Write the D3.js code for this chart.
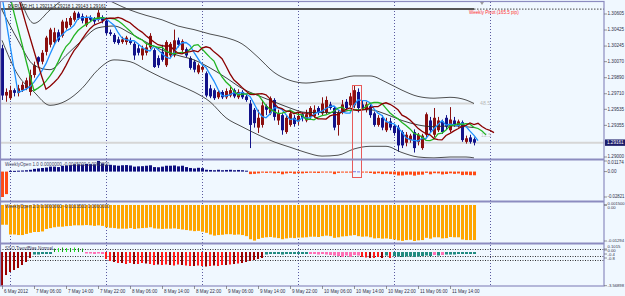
<!DOCTYPE html>
<html><head><meta charset="utf-8">
<script src="https://cdn.jsdelivr.net/npm/d3@7"></script>
<style>
html,body{margin:0;padding:0;background:#f0f8ff;}
svg{display:block;font-family:"Liberation Sans",Arial,sans-serif;}
</style></head><body>
<svg id="c" width="625" height="296"></svg>
<script>
// ---------------- DATA ----------------
const symbolHeader = "EURUSD,H1  1.29213 1.29218 1.29143 1.29161";
const opens = [
1.3022,1.2969,1.2966,1.2975,1.2972,1.2975,1.2977,1.2973,1.2992,1.3012,
1.3007,1.3018,1.3026,1.3029,1.3040,1.3036,1.3045,1.3048,1.3054,1.3061,
1.3058,1.3048,1.3057,1.3055,1.3054,1.3057,1.3053,1.3040,1.3037,1.3032,
1.3029,1.3029,1.3031,1.3027,1.3022,1.3014,1.3017,1.3023,1.3020,1.3011,
1.3018,1.3003,1.3014,1.3014,1.3031,1.3020,1.3021,1.3011,1.3007,1.2995,
1.2998,1.2994,1.2977,1.2975,1.2967,1.2973,1.2967,1.2969,1.2975,1.2967,
1.2973,1.2968,1.2960,1.2953,1.2933,1.2936,1.2957,1.2949,1.2964,1.2941,
1.2947,1.2928,1.2936,1.2944,1.2940,1.2948,1.2941,1.2945,1.2946,1.2955,
1.2949,1.2950,1.2959,1.2955,1.2936,1.2950,1.2962,1.2958,1.2958,1.2973,
1.2959,1.2953,1.2957,1.2949,1.2936,1.2944,1.2930,1.2940,1.2935,1.2933,
1.2928,1.2916,1.2919,1.2928,1.2917,1.2910,1.2925,1.2941,1.2925,1.2930,
1.2940,1.2944,1.2930,1.2941,1.2935,1.2939,1.2917,1.2922,1.2920];
const highs = [
1.3026,1.2977,1.2980,1.2977,1.2981,1.2984,1.2989,1.2998,1.3007,1.3013,
1.3020,1.3036,1.3045,1.3045,1.3043,1.3054,1.3056,1.3058,1.3064,1.3063,
1.3061,1.3059,1.3059,1.3057,1.3065,1.3059,1.3055,1.3043,1.3039,1.3035,
1.3035,1.3036,1.3034,1.3029,1.3026,1.3025,1.3027,1.3039,1.3022,1.3014,
1.3026,1.3031,1.3029,1.3043,1.3034,1.3032,1.3023,1.3013,1.3009,1.3005,
1.3003,1.2996,1.2981,1.2977,1.2975,1.2975,1.2977,1.2980,1.2977,1.2976,
1.2975,1.2971,1.2964,1.2955,1.2953,1.2964,1.2959,1.2968,1.2966,1.2953,
1.2949,1.2947,1.2953,1.2947,1.2950,1.2950,1.2953,1.2957,1.2958,1.2957,
1.2967,1.2968,1.2962,1.2957,1.2953,1.2964,1.2965,1.2972,1.2980,1.2977,
1.2963,1.2962,1.2959,1.2951,1.2947,1.2947,1.2944,1.2944,1.2937,1.2936,
1.2930,1.2928,1.2926,1.2931,1.2927,1.2926,1.2950,1.2945,1.2955,1.2945,
1.2942,1.2947,1.2956,1.2945,1.2942,1.2941,1.2924,1.2925,1.2922];
const lows = [
1.2964,1.2962,1.2964,1.2968,1.2968,1.2973,1.2975,1.2969,1.2989,1.3003,
1.3004,1.3014,1.3023,1.3026,1.3029,1.3034,1.3043,1.3046,1.3052,1.3054,
1.3050,1.3046,1.3052,1.3049,1.3052,1.3050,1.3037,1.3036,1.3027,1.3026,
1.3027,1.3026,1.3026,1.3009,1.3014,1.3009,1.3014,1.3021,1.3000,1.3000,
1.3007,1.3001,1.3012,1.3012,1.3023,1.3018,1.3012,1.2998,1.2995,1.2993,
1.2995,1.2967,1.2966,1.2964,1.2965,1.2965,1.2965,1.2967,1.2966,1.2965,
1.2965,1.2962,1.2910,1.2933,1.2927,1.2933,1.2947,1.2947,1.2941,1.2936,
1.2925,1.2926,1.2934,1.2934,1.2936,1.2940,1.2939,1.2942,1.2944,1.2947,
1.2947,1.2948,1.2953,1.2930,1.2924,1.2948,1.2953,1.2956,1.2955,1.2950,
1.2953,1.2950,1.2944,1.2934,1.2934,1.2930,1.2928,1.2930,1.2924,1.2906,
1.2910,1.2912,1.2916,1.2905,1.2913,1.2908,1.2922,1.2928,1.2922,1.2928,
1.2926,1.2931,1.2928,1.2934,1.2933,1.2917,1.2915,1.2915,1.2913];
const closes = [
1.2969,1.2973,1.2975,1.2972,1.2977,1.2981,1.2986,1.2992,1.3003,1.3007,
1.3017,1.3034,1.3043,1.3040,1.3031,1.3052,1.3052,1.3056,1.3062,1.3056,
1.3053,1.3057,1.3054,1.3052,1.3062,1.3053,1.3039,1.3038,1.3029,1.3028,
1.3032,1.3034,1.3028,1.3014,1.3017,1.3022,1.3023,1.3036,1.3001,1.3003,
1.3009,1.3029,1.3027,1.3031,1.3026,1.3030,1.3014,1.3000,1.2998,1.3003,
1.3001,1.2969,1.2968,1.2966,1.2973,1.2967,1.2974,1.2975,1.2968,1.2973,
1.2967,1.2964,1.2936,1.2938,1.2944,1.2958,1.2953,1.2966,1.2945,1.2949,
1.2930,1.2944,1.2949,1.2937,1.2946,1.2944,1.2948,1.2955,1.2953,1.2950,
1.2960,1.2964,1.2955,1.2933,1.2950,1.2959,1.2955,1.2968,1.2975,1.2955,
1.2955,1.2959,1.2947,1.2936,1.2944,1.2933,1.2939,1.2933,1.2927,1.2913,
1.2913,1.2925,1.2924,1.2910,1.2925,1.2924,1.2948,1.2930,1.2944,1.2941,
1.2928,1.2934,1.2942,1.2936,1.2940,1.2919,1.2921,1.2917,1.29161];
// closes of the last bars before the chart (needed by the moving averages)
const priorCloses = [1.3092,1.3088,1.3085,1.3090,1.3086,1.3082,1.3084,1.3080,1.3078,1.3083,1.3081,1.3080];

// Bollinger bands every 4 bars
const bbBars   = [0,4,8,12,16,20,24,28,32,36,40,44,48,52,56,60,64,68,72,76,80,84,88,92,96,100,104,108,112,116,118];
const bbUpper  = [1.3121,1.3082,1.3050,1.3065,1.3079,1.3087,1.3082,1.3073,1.3065,1.3059,1.3054,1.3047,1.3043,1.3038,1.3034,1.3027,1.3012,1.2995,1.2986,1.2983,1.2985,1.2987,1.2991,1.2991,1.2984,1.2975,1.2968,1.2966,1.2967,1.2964,1.2960];
const bbMiddle = [1.3065,1.3031,1.3003,1.2998,1.3014,1.3031,1.3045,1.3047,1.3039,1.3029,1.3020,1.3014,1.3009,1.3000,1.2989,1.2977,1.2969,1.2962,1.2955,1.2950,1.2950,1.2950,1.2953,1.2953,1.2948,1.2941,1.2936,1.2934,1.2935,1.2934,1.2933];
const bbLower  = [1.3031,1.2992,1.2973,1.2958,1.2963,1.2977,1.2998,1.3009,1.3007,1.2998,1.2989,1.2981,1.2973,1.2962,1.2944,1.2934,1.2925,1.2917,1.2911,1.2905,1.2901,1.2902,1.2909,1.2912,1.2912,1.2905,1.2900,1.2899,1.2900,1.2900,1.2899];

const maPeriods = [4, 6, 7];
const maShifts  = [1, 3, 5];
const maColors  = ["#1e90ff", "#22b422", "#8b0000"];

const weeklyPivot = 1.3066;
const pivotLabel = "Weekly Pivot (165.5 pip)";
const levelPrices = [1.2960];
const levelLabels = ["48.5"];
const bidPrice = 1.29161;
const bidLabel = "12.5";

const weeklyOpen1 = [
-0.02821,-0.0250,0.0008,0.0008,0.0010,0.0012,0.0015,0.0020,0.0030,0.0035,
0.0040,0.0045,0.0055,0.0055,0.0050,0.0065,0.0068,0.0072,0.0080,0.0080,
0.0078,0.0085,0.0082,0.0080,0.01174,0.0090,0.0075,0.0075,0.0070,0.0065,
0.0070,0.0072,0.0068,0.0055,0.0058,0.0060,0.0065,0.0070,0.0050,0.0048,
0.0055,0.0065,0.0065,0.0068,0.0058,0.0065,0.0050,0.0040,0.0035,0.0042,
0.0038,0.0020,0.0018,0.0015,0.0020,0.0015,0.0018,0.0020,0.0015,0.0018,
0.0015,0.0010,-0.0028,-0.0025,-0.0020,-0.0012,-0.0015,-0.0008,-0.0020,-0.0016,
-0.0030,-0.0020,-0.0015,-0.0024,-0.0018,-0.0020,-0.0016,-0.0012,-0.0014,-0.0016,
-0.0008,-0.0006,-0.0010,-0.0028,-0.0014,-0.0008,-0.0012,-0.0004,0.0004,0.0002,
-0.0010,-0.0006,-0.0016,-0.0025,-0.0018,-0.0028,-0.0022,-0.0028,-0.0032,-0.0043,
-0.0043,-0.0035,-0.0034,-0.0045,-0.0035,-0.0034,-0.0014,-0.0030,-0.0018,-0.0020,
-0.0032,-0.0027,-0.0019,-0.0025,-0.0021,-0.0039,-0.0036,-0.0040,-0.0041];
const weeklyOpen2 = [
-0.0071,-0.0071,-0.0106,-0.0106,-0.0108,-0.0108,-0.0104,-0.0100,-0.0097,-0.0097,
-0.0095,-0.0086,-0.0083,-0.0080,-0.0078,-0.0078,-0.0076,-0.0075,-0.0073,-0.0073,
-0.0073,-0.0072,-0.0073,-0.0075,-0.0073,-0.0075,-0.0080,-0.0082,-0.0083,-0.0085,
-0.0085,-0.0085,-0.0083,-0.0086,-0.0084,-0.0083,-0.0082,-0.0080,-0.0084,-0.0085,
-0.0086,-0.0085,-0.0085,-0.0084,-0.0086,-0.0088,-0.0090,-0.0092,-0.0094,-0.0093,
-0.0096,-0.0100,-0.0106,-0.0110,-0.0108,-0.0107,-0.0105,-0.0105,-0.0107,-0.0106,
-0.0108,-0.0112,-0.0123,-0.0128,-0.0122,-0.0118,-0.0116,-0.0115,-0.0117,-0.0119,
-0.0123,-0.0120,-0.0118,-0.0119,-0.0117,-0.0117,-0.0116,-0.0114,-0.0114,-0.0115,
-0.0112,-0.0110,-0.0112,-0.0118,-0.0116,-0.0113,-0.0112,-0.0110,-0.0108,-0.0112,
-0.0114,-0.0113,-0.0116,-0.0120,-0.0119,-0.0121,-0.0120,-0.0122,-0.0124,-0.0127,
-0.0129,-0.0126,-0.0125,-0.01294,-0.0127,-0.0126,-0.0118,-0.0121,-0.0116,-0.0116,
-0.0120,-0.0119,-0.0115,-0.0116,-0.0116,-0.0124,-0.0126,-0.0126,-0.0126];
const trendBias = [
-3.56898,-2.5,-2.2,-2.0,-1.8,-1.5,-1.2,-0.8,-0.45,-0.45,
-0.4,-0.4,-0.4,0.15,0.2,0.25,0.2,0.2,0.25,0.2,
0.15,-0.35,-0.35,-0.4,-0.35,-0.4,-0.9,-1.1,-1.2,-1.3,
-1.3,-1.4,-1.3,-1.4,-1.4,-1.3,-1.35,-1.4,-1.5,-1.45,
-1.5,-1.45,-1.5,-1.55,-1.45,-1.5,-1.55,-1.6,-1.6,-1.55,
-1.6,-1.65,-1.6,-1.55,-1.6,-1.5,-1.5,-1.45,-1.4,-1.35,
-1.3,-1.2,-1.1,-1.0,-0.9,-0.8,-0.45,-0.4,-0.4,-0.4,
-0.45,-0.4,-0.4,-0.4,-0.4,-0.4,-0.4,-0.4,-0.4,-0.45,
-0.4,-0.45,-0.5,-0.55,-0.6,-0.7,-0.55,-0.7,-0.5,-0.55,
-0.7,-0.75,-0.8,-0.8,-0.7,-0.8,-0.55,-0.8,-0.6,-0.65,
-0.7,-0.65,-0.65,-0.7,-0.65,-0.6,-0.55,-0.6,-0.5,-0.55,
-0.5,-0.45,-0.45,-0.45,-0.4,-0.4,-0.4,-0.4,-0.4];
const trendState = [
"dr","dr","dr","dr","dr","dr","dr","dr","tl","tl",
"tl","tl","tl","g","lg","g","lg","g","lg","g",
"g","pk","pk","pk","pk","pk","r","r","dr","r",
"dr","r","r","dr","r","r","dr","r","r","dr",
"r","r","dr","r","r","dr","r","r","dr","r",
"r","dr","r","dr","r","r","dr","r","dr","r",
"dr","dr","dr","dr","dr","dr","tl","tl","tl","tl",
"tl","tl","tl","tl","tl","tl","tl","pk","pk","pk",
"pk","pk","pk","pk","pk","pk","pk","pk","pk","pk",
"r","r","dr","r","r","dr","tl","r","tl","tl",
"tl","tl","tl","tl","tl","tl","tl","tl","pk","tl",
"pk","tl","tl","tl","tl","tl","tl","tl","tl"];
const trendBase = -0.2;
const trendLevels = [0.1, -0.6, -1.0];

const highlight = {bar0: 88, bar1: 89, bottomValue: -0.0057};

const priceTicks = [1.30605,1.30425,1.30245,1.30070,1.29890,1.29710,1.29535,1.29355,1.29000];
const p2Ticks = [0.01174, 0.0, -0.02821];
const p2TickLabels = ["0.01174","0.00","-0.02821"];
const p3Ticks = [0.0, 0.0, -0.01294];
const p3TickLabels = ["0.001500","0.00","-0.01294"];
const p4Ticks = [0.1015, 0.0, -0.4, -0.8, -3.56898];
const p4TickLabels = ["0.1015","0.00","-0.4","-0.8","-3.56898"];

const timeTicks = ["2012-05-06T22:00Z","2012-05-07T06:00Z","2012-05-07T14:00Z","2012-05-07T22:00Z",
  "2012-05-08T06:00Z","2012-05-08T14:00Z","2012-05-08T22:00Z","2012-05-09T06:00Z","2012-05-09T14:00Z",
  "2012-05-09T22:00Z","2012-05-10T06:00Z","2012-05-10T14:00Z","2012-05-10T22:00Z","2012-05-11T06:00Z","2012-05-11T14:00Z"];
const timeLabels = ["6 May 2012","7 May 06:00","7 May 14:00","7 May 22:00","8 May 06:00","8 May 14:00",
  "8 May 22:00","9 May 06:00","9 May 14:00","9 May 22:00","10 May 06:00","10 May 14:00","10 May 22:00",
  "11 May 06:00","11 May 14:00"];
const daySeparators = ["2012-05-07T00:00Z","2012-05-08T00:00Z","2012-05-09T00:00Z","2012-05-10T00:00Z","2012-05-11T00:00Z","2012-05-12T00:00Z"];

const panelTitles = ["WeeklyOpen 1.0 0.0000000 -0.0045000 0.0000000",
                     "WeeklyOpen 2.0 0.0000000 -0.0103500 0.0000000",
                     "SSO TrendBias Normal"];

// ---------------- CHART ----------------
const svg = d3.select("#c");
const HOUR = 3600e3;
const start = Date.UTC(2012,4,6,22);
const barTime = i => new Date(start + i*HOUR);
const RIGHT = 604;
const x = d3.scaleUtc().domain([new Date(start-0.5*HOUR), new Date(start+150.5*HOUR)]).range([0, RIGHT]);

const pane = {main:[2,159], p2:[160,201], p3:[202,243], p4:[244,286]};
const yMain = d3.scaleLinear().domain([1.29000,1.30605]).range([157,14]);
const yP2 = d3.scaleLinear().domain([-0.02821,0.01174]).range([197,161]);
const yP3 = d3.scaleLinear().domain([-0.01294,0]).range([241,205]);
const yP4 = d3.scaleLinear().domain([-3.56898,0.1015]).range([285.7,249]);

const frameColor = "#8c8cc0";
const textColor = "#30304a";
const FS = 4.6;

svg.append("rect").attr("width",625).attr("height",296).attr("fill","#f0f8ff");

const defs = svg.append("defs");
Object.entries(pane).forEach(([k,[a,b]])=>{
  defs.append("clipPath").attr("id","clip-"+k).append("rect")
    .attr("x",1).attr("y",a).attr("width",RIGHT-1).attr("height",b-a);
});

// day separators
const sep = svg.append("g");
daySeparators.forEach(s=>{
  const xx = Math.round(x(new Date(s)))+0.5;
  sep.append("line").attr("x1",xx).attr("x2",xx).attr("y1",2).attr("y2",286)
    .attr("stroke","#5a5aa0").attr("stroke-width",1).attr("stroke-dasharray","1,2");
});

// ------ main pane ------
const gm = svg.append("g").attr("clip-path","url(#clip-main)");
const lastX = x(barTime(closes.length-1));
levelPrices.forEach((p,k)=>{
  gm.append("line").attr("x1",0).attr("x2",lastX).attr("y1",yMain(p)).attr("y2",yMain(p))
    .attr("stroke","#d6d6d6").attr("stroke-width",2);
  gm.append("text").attr("x",lastX+6).attr("y",yMain(p)+1.5).attr("font-size",FS+0.6)
    .attr("fill","#b8b8b8").text(levelLabels[k]);
});
gm.append("line").attr("x1",0).attr("x2",RIGHT).attr("y1",yMain(bidPrice)).attr("y2",yMain(bidPrice))
  .attr("stroke","#d6d6d6").attr("stroke-width",2);
gm.append("text").attr("x",lastX+7).attr("y",yMain(bidPrice)-6).attr("font-size",FS+0.6)
  .attr("fill","#c4c4c4").text(bidLabel);
gm.append("line").attr("x1",0).attr("x2",lastX).attr("y1",yMain(weeklyPivot)).attr("y2",yMain(weeklyPivot))
  .attr("stroke","#555").attr("stroke-width",2);
gm.append("line").attr("x1",lastX).attr("x2",RIGHT).attr("y1",yMain(weeklyPivot)).attr("y2",yMain(weeklyPivot))
  .attr("stroke","#444").attr("stroke-width",1).attr("stroke-dasharray","1.5,1.5");
gm.append("text").attr("x",lastX-5).attr("y",yMain(weeklyPivot)+5).attr("font-size",FS)
  .attr("fill","#ff3030").text(pivotLabel);

// candles
const candles = gm.append("g");
closes.forEach((c,i)=>{
  const xc = Math.round(x(barTime(i)));
  const up = c >= opens[i];
  const col = up ? "#8b1010" : "#12128a";
  candles.append("line").attr("x1",xc+0.5).attr("x2",xc+0.5)
    .attr("y1",yMain(highs[i])).attr("y2",yMain(lows[i])).attr("stroke",col).attr("stroke-width",1);
  const y0 = yMain(Math.max(opens[i],c)), y1 = yMain(Math.min(opens[i],c));
  candles.append("rect").attr("x",xc-1).attr("width",3).attr("y",y0).attr("height",Math.max(1,y1-y0))
    .attr("fill",col);
});

// bollinger bands
const bbLine = d3.line().x(d=>x(barTime(d[0]))).y(d=>yMain(d[1])).curve(d3.curveMonotoneX);
[[bbUpper,"#3c3c3c"],[bbMiddle,"#2a2a2a"],[bbLower,"#3c3c3c"]].forEach(([arr,col])=>{
  gm.append("path").attr("d",bbLine(bbBars.map((b,k)=>[b,arr[k]])))
    .attr("fill","none").attr("stroke",col).attr("stroke-width",0.9);
});

// moving averages
const all = priorCloses.concat(closes);
const nPrior = priorCloses.length;
const maLine = d3.line().x(d=>x(barTime(d[0]))).y(d=>yMain(d[1]));
maPeriods.forEach((p,m)=>{
  const pts = [];
  for(let k=p-1;k<all.length;k++){
    pts.push([k-nPrior+maShifts[m], d3.mean(all.slice(k-p+1,k+1))]);
  }
  gm.append("path").attr("d",maLine(pts)).attr("fill","none")
    .attr("stroke",maColors[m]).attr("stroke-width",1.3);
});

// header
svg.append("text").attr("x",8).attr("y",7.5).attr("font-size",FS).attr("fill","#202020").text(symbolHeader);
// chart shift marker
svg.append("path").attr("d",`M${x(barTime(120))-2},2 L${x(barTime(120))+2},2 L${x(barTime(120))},5 Z`).attr("fill","#999");

// ------ panel 2 ------
const g2 = svg.append("g").attr("clip-path","url(#clip-p2)");
weeklyOpen1.forEach((v,i)=>{
  const xc = Math.round(x(barTime(i)));
  const col = v >= 0 ? (i===88||i===89 ? "#7a7ae0" : "#0f0f7e") : "#ff4a14";
  const a = yP2(0), b = yP2(v);
  g2.append("rect").attr("x",xc-1).attr("width",3).attr("y",Math.min(a,b)).attr("height",Math.max(1,Math.abs(b-a)))
    .attr("fill",col);
});
// ------ panel 3 ------
const g3 = svg.append("g").attr("clip-path","url(#clip-p3)");
weeklyOpen2.forEach((v,i)=>{
  const xc = Math.round(x(barTime(i)));
  g3.append("rect").attr("x",xc-1).attr("width",3).attr("y",yP3(0)).attr("height",yP3(v)-yP3(0))
    .attr("fill","#ffa500");
});
// ------ panel 4 ------
const g4 = svg.append("g").attr("clip-path","url(#clip-p4)");
trendLevels.forEach(l=>{
  g4.append("line").attr("x1",0).attr("x2",RIGHT).attr("y1",Math.round(yP4(l))+0.5).attr("y2",Math.round(yP4(l))+0.5)
    .attr("stroke","#333").attr("stroke-width",1).attr("stroke-dasharray","1,1.5");
});
const stateColor = {dr:"#9b0000", r:"#ff1a1a", tl:"#1f8a80", g:"#119911", lg:"#22ee22", pk:"#ff6eb4"};
trendBias.forEach((v,i)=>{
  const xc = Math.round(x(barTime(i)));
  const a = yP4(trendBase), b = yP4(v);
  const s = trendState[i];
  const w = (s==="g"||s==="lg") ? 1 : (s==="tl"||s==="pk") ? 3 : 2;
  g4.append("rect").attr("x",xc-(w>1?1:0)).attr("width",w).attr("y",Math.min(a,b)).attr("height",Math.max(1.5,Math.abs(b-a)))
    .attr("fill",stateColor[s]);
});

// highlight box
{
  const x0 = x(barTime(highlight.bar0))-2, x1 = x(barTime(highlight.bar1))+3;
  const y0 = yMain(highs[highlight.bar0])-1, y1 = yP2(highlight.bottomValue);
  svg.append("rect").attr("x",Math.round(x0)+0.5).attr("y",Math.round(y0)+0.5)
    .attr("width",Math.round(x1-x0)).attr("height",Math.round(y1-y0))
    .attr("fill","none").attr("stroke","#e85a5a").attr("stroke-width",1);
}

// panel titles
[pane.p2[0]+6, pane.p3[0]+6, pane.p4[0]+6].forEach((yy,k)=>{
  svg.append("text").attr("x",5).attr("y",yy).attr("font-size",FS).attr("fill","#404060").text(panelTitles[k]);
});

// frame & separators
svg.append("rect").attr("x",0.5).attr("y",1.5).attr("width",RIGHT-0.5).attr("height",284.5)
  .attr("fill","none").attr("stroke",frameColor).attr("stroke-width",1.2);
[159.5,201.5,243.5].forEach(yy=>{
  svg.append("line").attr("x1",0).attr("x2",RIGHT).attr("y1",yy).attr("y2",yy)
    .attr("stroke",frameColor).attr("stroke-width",2.2);
});

// right axes (labels spread apart when they would collide)
const axisG = svg.append("g").attr("fill",textColor);
function rightLabels(vals, labels, scale, paneRange, fs){
  const pos = vals.map(v=>scale(v));
  const order = d3.range(vals.length).sort((a,b)=>pos[a]-pos[b]);
  const p = order.map(k=>pos[k]);
  for(let it=0; it<60; it++){
    for(let k=0;k<p.length-1;k++){
      const d = fs - (p[k+1]-p[k]);
      if(d>0){ p[k]-=d/2; p[k+1]+=d/2; }
    }
    p[0] = Math.max(p[0], paneRange[0]+fs/2);
  }
  order.forEach((k,j)=>{
    const yy = pos[k];
    axisG.append("line").attr("x1",RIGHT).attr("x2",RIGHT+3).attr("y1",yy).attr("y2",yy)
      .attr("stroke","#555").attr("stroke-width",0.6);
    const t = axisG.append("text").attr("x",RIGHT+3.5).attr("y",p[j]).attr("font-size",fs)
      .attr("dominant-baseline","middle").text(labels[k]);
    const avail = 625 - (RIGHT+3.5) - 0.5;
    if(t.node().getComputedTextLength() > avail){
      t.attr("textLength",avail).attr("lengthAdjust","spacingAndGlyphs");
    }
  });
}
rightLabels(priceTicks, priceTicks.map(d=>d.toFixed(5)), yMain, pane.main, FS);
rightLabels(p2Ticks, p2TickLabels, yP2, pane.p2, FS);
rightLabels(p3Ticks, p3TickLabels, yP3, pane.p3, 4.2);
rightLabels(p4Ticks, p4TickLabels, yP4, pane.p4, 4.2);
// current price marker
{
  const yy = yMain(bidPrice);
  svg.append("rect").attr("x",RIGHT+1).attr("y",yy-3.2).attr("width",20).attr("height",6.4).attr("fill","#1c1c6a");
  svg.append("text").attr("x",RIGHT+3).attr("y",yy).attr("dominant-baseline","middle")
    .attr("font-size",FS).attr("fill","#fff").text(bidPrice.toFixed(5));
}

// time axis
const tg = svg.append("g").attr("font-size",FS).attr("fill",textColor);
timeTicks.forEach((t,k)=>{
  const xx = Math.round(x(new Date(t)))+0.5;
  tg.append("line").attr("x1",xx).attr("x2",xx).attr("y1",286).attr("y2",289).attr("stroke","#555").attr("stroke-width",0.6);
  tg.append("text").attr("x",xx+1.5).attr("y",291.5).attr("dominant-baseline","middle").text(timeLabels[k]);
});
</script>
</body></html>
